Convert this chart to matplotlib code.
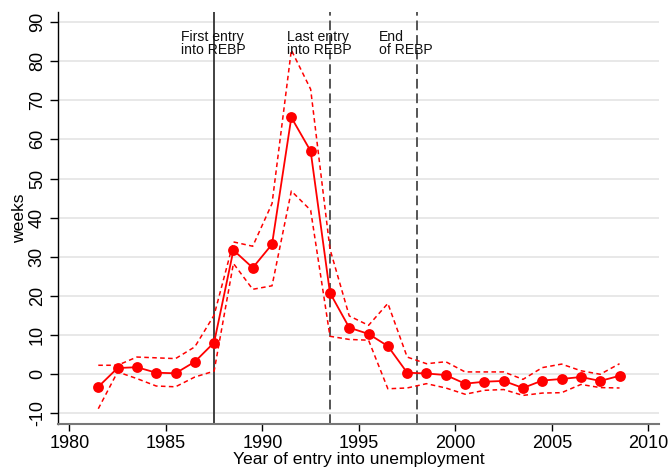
import matplotlib
matplotlib.use("Agg")
import matplotlib.pyplot as plt

plt.rcParams['font.family'] = ['Liberation Sans', 'DejaVu Sans']
plt.rcParams['axes.unicode_minus'] = False

years = [1981.5 + i for i in range(28)]
estimate = [-3.2, 1.6, 1.8, 0.4, 0.25, 3.2, 8.1, 31.7, 27.2, 33.2, 65.6, 57.0,
            20.8, 11.9, 10.3, 7.2, 0.4, 0.2, -0.2, -2.4, -1.9, -1.7, -3.5,
            -1.6, -1.2, -0.7, -1.7, -0.4]
upper = [2.3, 2.3, 4.4, 4.2, 4.0, 7.0, 15.1, 33.8, 32.7, 43.6, 82.8, 72.8,
         32.0, 14.9, 12.5, 18.1, 4.4, 2.7, 3.2, 0.6, 0.6, 0.6, -1.3,
         1.7, 2.6, 0.9, 0.0, 2.7]
lower = [-8.8, 0.6, -1.1, -3.0, -3.2, -0.7, 0.8, 28.3, 21.7, 22.6, 46.8, 41.9,
         9.7, 8.9, 8.7, -3.7, -3.5, -2.4, -3.5, -5.1, -4.1, -3.9, -5.4,
         -4.8, -4.7, -2.6, -3.4, -3.5]

event_x = [1987.5, 1993.5, 1998.0]
event_styles = ['solid', 'dashed', 'dashed']
event_labels = ["First entry\ninto REBP", "Last entry\ninto REBP", "End\nof REBP"]
label_x = [1985.8, 1991.3, 1996.05]

xticks = [1980, 1985, 1990, 1995, 2000, 2005, 2010]
yticks = [-10, 0, 10, 20, 30, 40, 50, 60, 70, 80, 90]

fig = plt.figure(figsize=(6.72, 4.72), dpi=100)
ax = fig.add_axes([0.0868, 0.1017, 0.894, 0.8735])

ax.set_xlim(1979.43, 2010.55)
ax.set_ylim(-12.7, 92.6)

for yt in yticks:
    ax.axhline(yt, color='#e6e6e6', lw=1.3, zorder=0)

for xv, st in zip(event_x, event_styles):
    if st == 'solid':
        ax.axvline(xv, color='#333333', lw=1.3, zorder=1)
    else:
        ax.axvline(xv, color='#555555', lw=1.4, linestyle=(0, (5, 2.5)), zorder=1)

ax.plot(years, upper, color='red', lw=1.1, linestyle=(0, (3, 2.2)), zorder=2)
ax.plot(years, lower, color='red', lw=1.1, linestyle=(0, (3, 2.2)), zorder=2)
ax.plot(years, estimate, color='red', lw=1.3, marker='o', markersize=7.8,
        markeredgewidth=0, zorder=3)

for lx, lab in zip(label_x, event_labels):
    ax.text(lx, 88.0, lab, fontsize=10.1, ha='left', va='top', linespacing=0.95,
            color='#111111', zorder=4)

ax.set_xticks(xticks)
ax.set_yticks(yticks)
ax.tick_params(axis='x', labelsize=13, direction='out', length=5, width=1, colors='black', pad=3)
ax.tick_params(axis='y', labelsize=13, direction='out', length=6, width=1, labelrotation=90, pad=3)
for lbl in ax.get_yticklabels():
    lbl.set_va('center')

ax.spines['top'].set_visible(False)
ax.spines['right'].set_visible(False)
ax.spines['left'].set_color('black')
ax.spines['left'].set_linewidth(1.0)
ax.spines['bottom'].set_color('#777777')
ax.spines['bottom'].set_linewidth(1.5)

ax.set_xlabel("Year of entry into unemployment", fontsize=12.6, labelpad=0)
ax.set_ylabel("weeks", fontsize=12.6, labelpad=1)

fig.savefig("out.png", dpi=100)
